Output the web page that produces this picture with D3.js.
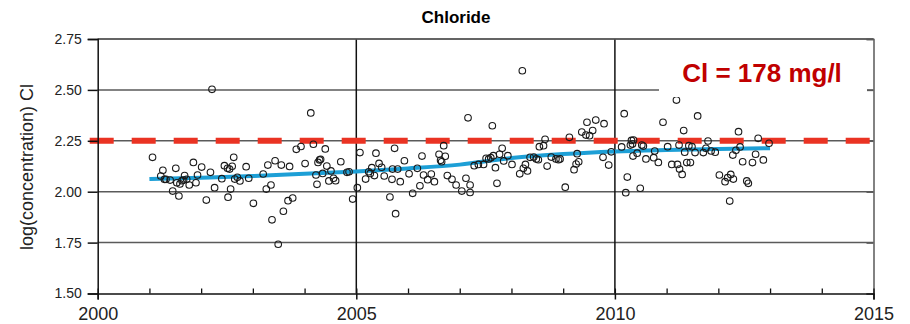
<!DOCTYPE html>
<html>
<head>
<meta charset="utf-8">
<script src="https://cdn.jsdelivr.net/npm/d3@7"></script>
<style>
  body { margin: 0; background: #fff; }
  svg { display: block; font-family: "Liberation Sans", Arial, sans-serif; }
</style>
</head>
<body>
<svg id="chart" width="910" height="324"></svg>
<script>
// Chloride samples: [decimal year, log10 concentration]
const samples = [
  [2001.06,2.169],[2001.26,2.105],[2001.22,2.077],[2001.29,2.061],[2001.32,2.061],[2001.40,2.057],
  [2001.51,2.115],[2001.45,2.003],[2001.57,1.979],[2001.53,2.044],[2001.59,2.038],[2001.63,2.054],
  [2001.68,2.079],[2001.66,2.057],[2001.72,2.061],[2001.77,2.033],[2001.85,2.144],[2001.90,2.044],
  [2001.93,2.082],[2002.01,2.121],[2002.10,1.959],[2002.18,2.095],[2002.21,2.503],[2002.26,2.020],
  [2002.40,2.064],[2002.45,2.128],[2002.51,2.115],[2002.55,2.111],[2002.60,2.125],[2002.63,2.169],
  [2002.57,2.013],[2002.52,1.973],[2002.65,2.062],[2002.70,2.071],[2002.75,2.053],[2002.87,2.123],
  [2002.92,2.066],[2003.01,1.943],
  [2003.20,2.087],[2003.26,2.013],[2003.35,2.033],[2003.37,1.862],[2003.29,2.131],[2003.43,2.152],
  [2003.55,2.131],[2003.49,1.742],[2003.59,1.904],[2003.68,1.956],[2003.71,2.124],[2003.77,1.969],
  [2003.84,2.208],[2003.93,2.222],[2004.12,2.387],[2004.01,2.138],[2004.17,2.233],[2004.22,2.082],
  [2004.24,2.036],[2004.26,2.144],[2004.29,2.156],[2004.31,2.159],[2004.35,2.090],[2004.40,2.210],
  [2004.43,2.126],[2004.47,2.053],[2004.51,2.102],[2004.56,2.066],[2004.60,2.054],[2004.70,2.147],
  [2004.82,2.095],[2004.86,2.098],[2004.93,1.964],[2005.02,2.020],[2005.07,2.192],
  [2005.18,2.062],[2005.24,2.098],[2005.27,2.090],[2005.30,2.118],[2005.35,2.079],[2005.38,2.189],
  [2005.44,2.139],[2005.49,2.120],[2005.54,2.077],[2005.65,1.974],[2005.69,2.061],[2005.70,2.111],
  [2005.74,2.213],[2005.76,1.892],[2005.80,2.111],[2005.85,2.049],[2005.93,2.152],[2006.02,2.088],
  [2006.09,1.992],[2006.18,2.115],[2006.23,2.029],[2006.27,2.175],[2006.30,2.082],[2006.38,2.059],
  [2006.45,2.087],[2006.51,2.049],[2006.60,2.184],[2006.63,2.154],[2006.65,2.147],[2006.69,2.226],
  [2006.72,2.174],[2006.76,2.079],[2006.85,2.061],[2006.93,2.033],[2007.04,2.003],[2007.12,2.066],
  [2007.16,2.363],[2007.20,2.033],
  [2007.20,1.996],[2007.28,2.128],[2007.36,2.134],[2007.46,2.134],[2007.51,2.164],[2007.56,2.161],
  [2007.60,2.167],[2007.65,2.177],[2007.63,2.324],[2007.69,2.118],[2007.72,2.041],[2007.77,2.184],
  [2007.82,2.213],[2007.85,2.151],[2007.93,2.177],[2008.01,2.134],[2008.16,2.088],[2008.21,2.594],
  [2008.23,2.115],[2008.27,2.134],[2008.31,2.102],[2008.36,2.169],[2008.43,2.170],[2008.48,2.161],
  [2008.52,2.157],[2008.54,2.221],[2008.62,2.226],[2008.65,2.257],[2008.69,2.126],[2008.77,2.170],
  [2008.86,2.161],[2008.91,2.157],[2008.94,2.161],[2009.04,2.022],[2009.12,2.267],[2009.21,2.108],
  [2009.25,2.136],[2009.27,2.187],[2009.36,2.293],[2009.30,2.147],
  [2009.46,2.341],[2009.44,2.278],[2009.51,2.275],[2009.57,2.300],[2009.63,2.352],[2009.79,2.334],
  [2009.77,2.169],[2009.88,2.131],[2009.93,2.196],[2010.13,2.220],[2010.18,2.383],[2010.24,2.072],
  [2010.21,1.995],[2010.30,2.229],[2010.32,2.252],[2010.36,2.254],[2010.34,2.234],[2010.35,2.175],
  [2010.43,2.189],[2010.49,2.017],[2010.52,2.229],[2010.55,2.224],[2010.60,2.161],[2010.75,2.167],
  [2010.77,2.200],[2010.84,2.144],[2010.93,2.341],[2011.02,2.221],[2011.10,2.134],[2011.19,2.450],
  [2011.21,2.134],[2011.25,2.111],[2011.30,2.085],[2011.24,2.229],[2011.33,2.300],[2011.35,2.194],
  [2011.39,2.143],[2011.43,2.226],
  [2011.46,2.143],[2011.49,2.221],[2011.55,2.192],[2011.60,2.372],[2011.71,2.192],[2011.76,2.213],
  [2011.80,2.249],[2011.86,2.200],[2011.94,2.194],[2012.02,2.082],[2012.13,2.049],[2012.18,2.069],
  [2012.24,2.085],[2012.29,2.062],[2012.22,1.954],[2012.28,2.180],[2012.34,2.203],[2012.39,2.295],
  [2012.42,2.220],[2012.47,2.147],[2012.55,2.053],[2012.58,2.041],[2012.66,2.143],[2012.72,2.184],
  [2012.77,2.262],[2012.87,2.156],[2012.98,2.238]
];

// smoothed trend
const trendYears = [2001, 2002, 2003, 2004, 2005, 2006, 2007, 2008, 2009, 2010, 2011, 2012, 2013];
const trendValues = [2.062, 2.069, 2.077, 2.088, 2.099, 2.114, 2.133, 2.165, 2.185, 2.198, 2.205, 2.210, 2.214];

// guideline 178 mg/l
const limitMgL = 178;
const limitValue = Math.log10(limitMgL);

const yTicks = [1.50, 1.75, 2.00, 2.25, 2.50, 2.75];
const xMajorTicks = [2000, 2005, 2010, 2015];
const xMinorTicks = d3.range(2000, 2016);

const svg = d3.select("#chart");
const plotLeft = 97.7, plotRight = 873.5, plotTop = 39, plotBottom = 293.5;

const x = d3.scaleLinear().domain([2000, 2015]).range([plotLeft, plotRight]);
const y = d3.scaleLinear().domain([1.5, 2.75]).range([plotBottom, plotTop]);

// title
svg.append("text")
  .attr("x", 456).attr("y", 23)
  .attr("text-anchor", "middle")
  .style("font-size", "17px").style("font-weight", "bold")
  .text("Chloride");

// horizontal grid
svg.append("g")
  .selectAll("line")
  .data(yTicks.slice(1))
  .join("line")
  .attr("x1", plotLeft).attr("x2", plotRight)
  .attr("y1", d => y(d)).attr("y2", d => y(d))
  .attr("stroke", "#5a5a5a").attr("stroke-width", 1.5);

// vertical grid
svg.append("g")
  .selectAll("line")
  .data([2005, 2010])
  .join("line")
  .attr("x1", d => x(d)).attr("x2", d => x(d))
  .attr("y1", plotTop).attr("y2", plotBottom)
  .attr("stroke", "#111").attr("stroke-width", 1.5);

// right border + inward ticks
svg.append("g")
  .attr("transform", `translate(${plotRight},0)`)
  .call(d3.axisRight(y).tickValues(yTicks).tickSize(-7).tickFormat(""))
  .call(g => g.selectAll("line, path").attr("stroke", "#5a5a5a").attr("stroke-width", 1.5));

// trend line
svg.append("path")
  .datum(trendYears.map((t, i) => [t, trendValues[i]]))
  .attr("fill", "none")
  .attr("stroke", "#1d9fd6")
  .attr("stroke-width", 4)
  .attr("d", d3.line().x(d => x(d[0])).y(d => y(d[1])).curve(d3.curveMonotoneX));

// limit line
svg.append("line")
  .attr("x1", x(2000) - 8).attr("x2", x(2015) - 3)
  .attr("y1", y(limitValue)).attr("y2", y(limitValue))
  .attr("stroke", "#ea3323")
  .attr("stroke-width", 6)
  .attr("stroke-dasharray", "24,18");

// samples
svg.append("g")
  .selectAll("circle")
  .data(samples)
  .join("circle")
  .attr("cx", d => x(d[0]))
  .attr("cy", d => y(d[1]))
  .attr("r", 3.3)
  .attr("fill", "none")
  .attr("stroke", "#1a1a1a")
  .attr("stroke-width", 1.1);

// label box
svg.append("rect")
  .attr("x", 659).attr("y", 50).attr("width", 208).attr("height", 47)
  .attr("fill", "#fff");
svg.append("text")
  .attr("x", 762).attr("y", 82)
  .attr("text-anchor", "middle")
  .attr("fill", "#c00000")
  .style("font-size", "26px").style("font-weight", "bold")
  .text(`Cl = ${limitMgL} mg/l`);

// top border
svg.append("line")
  .attr("x1", plotLeft).attr("x2", plotRight)
  .attr("y1", plotTop).attr("y2", plotTop)
  .attr("stroke", "#5a5a5a").attr("stroke-width", 1.5);

// y axis
svg.append("g")
  .attr("transform", `translate(${plotLeft},0)`)
  .call(d3.axisLeft(y).tickValues(yTicks).tickSize(10).tickPadding(6).tickFormat(d3.format(".2f")))
  .call(g => g.selectAll("line, path").attr("stroke", "#111").attr("stroke-width", 1.5))
  .call(g => g.selectAll("text").attr("fill", "#222").style("font-size", "14px").style("font-family", "Liberation Sans, Arial, sans-serif"));

// x minor ticks (inward)
svg.append("g")
  .attr("transform", `translate(0,${plotBottom})`)
  .call(d3.axisBottom(x).tickValues(xMinorTicks).tickSize(-5).tickFormat(""))
  .call(g => g.select(".domain").remove())
  .call(g => g.selectAll("line").attr("stroke", "#111").attr("stroke-width", 1.3));

// x axis
svg.append("g")
  .attr("transform", `translate(0,${plotBottom})`)
  .call(d3.axisBottom(x).tickValues(xMajorTicks).tickSize(6).tickPadding(8).tickFormat(d3.format("d")))
  .call(g => g.selectAll("line, path").attr("stroke", "#111").attr("stroke-width", 1.5))
  .call(g => g.selectAll("text").attr("fill", "#222").style("font-size", "18px").style("font-family", "Liberation Sans, Arial, sans-serif"));

// y label
svg.append("text")
  .attr("transform", "translate(33,167) rotate(-90)")
  .attr("text-anchor", "middle")
  .attr("fill", "#222")
  .style("font-size", "18px")
  .text("log(concentration) Cl");
</script>
</body>
</html>
